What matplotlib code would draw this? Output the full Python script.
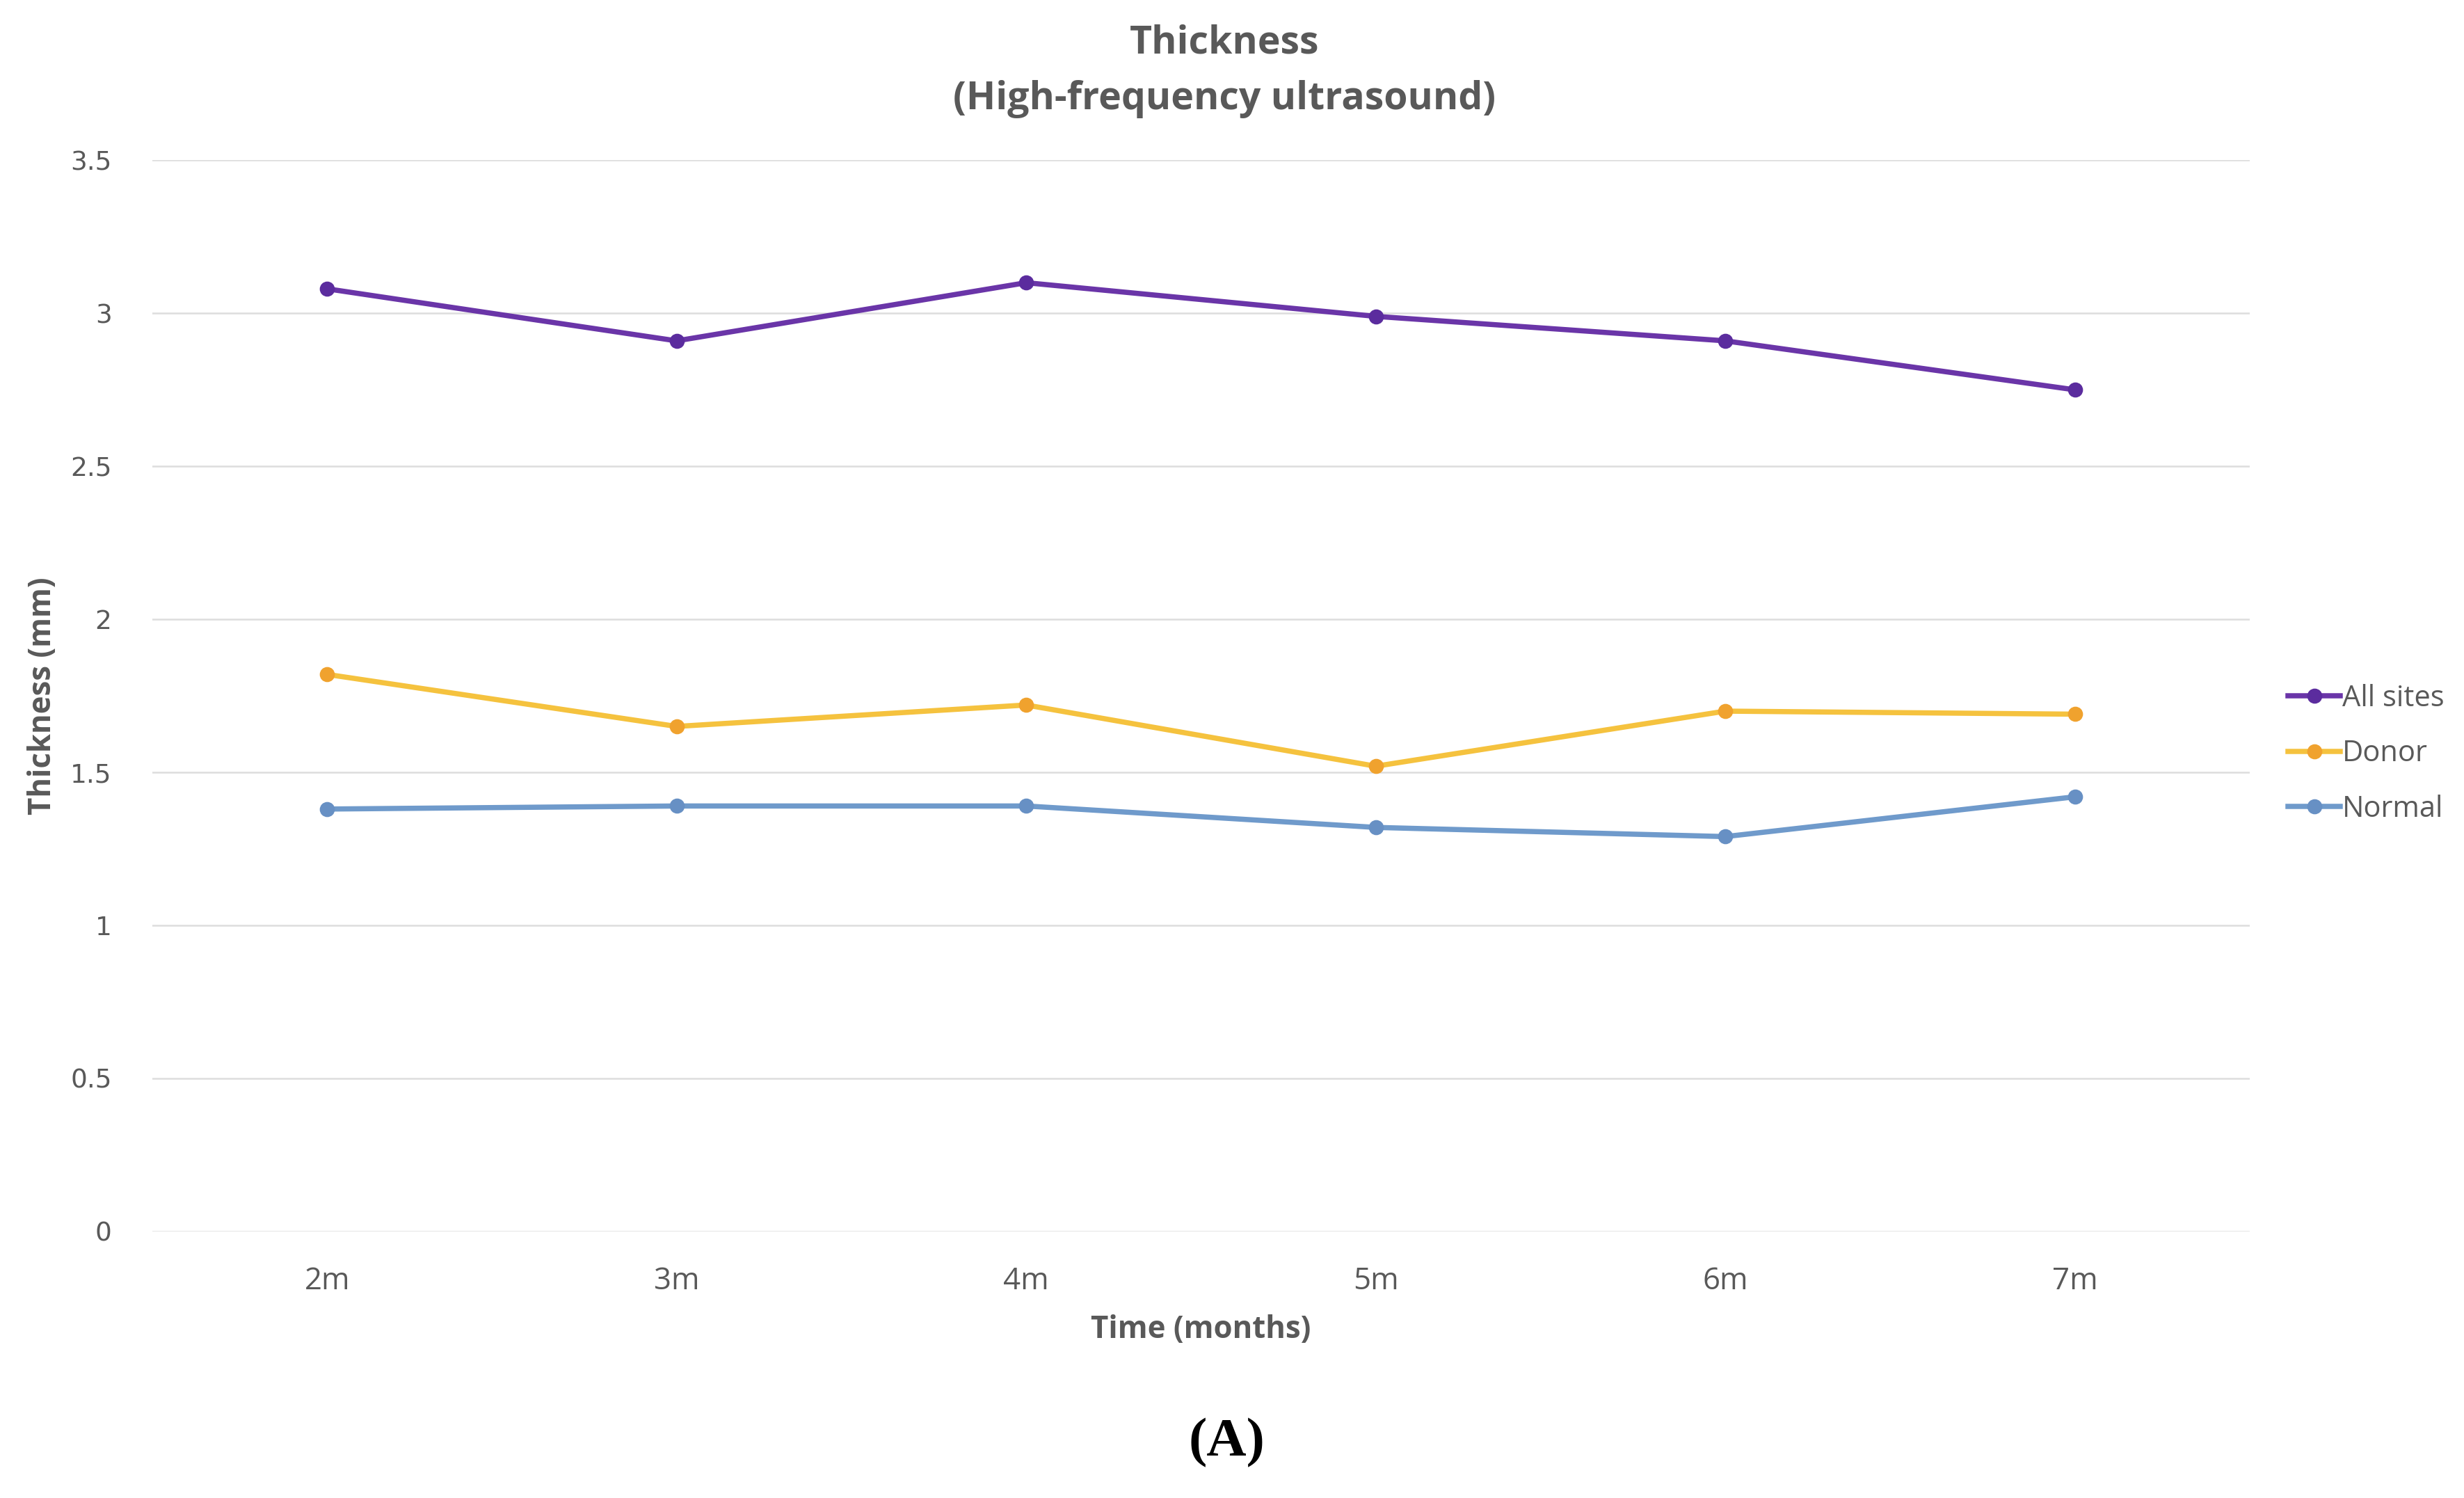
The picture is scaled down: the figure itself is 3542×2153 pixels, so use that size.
import matplotlib
matplotlib.use("Agg")
import matplotlib.pyplot as plt
import numpy as np

months = ["2m", "3m", "4m", "5m", "6m", "7m"]
all_sites = [3.08, 2.91, 3.10, 2.99, 2.91, 2.75]
donor = [1.82, 1.65, 1.72, 1.52, 1.70, 1.69]
normal = [1.38, 1.39, 1.39, 1.32, 1.29, 1.42]
y_ticks = [0, 0.5, 1, 1.5, 2, 2.5, 3, 3.5]
y_tick_labels = ["0", "0.5", "1", "1.5", "2", "2.5", "3", "3.5"]

narrow = ["Open Sans", "DejaVu Sans"]
gray = "#595959"

fig = plt.figure(figsize=(3542 / 300, 2153 / 300), dpi=300)
ax = fig.add_axes([0.0618, 0.178, 0.8512, 0.715])

x = np.arange(len(months))
series = [
    ("All sites", all_sites, "#6A35A8", "#5B2C9E"),
    ("Donor", donor, "#F5C23E", "#F0A22E"),
    ("Normal", normal, "#6F9ACB", "#6790C4"),
]
for name, vals, line_c, mark_c in series:
    ax.plot(x, vals, color=line_c, lw=1.8, marker="o", markersize=4.2,
            markerfacecolor=mark_c, markeredgecolor=mark_c, label=name, zorder=3)

ax.set_xlim(-0.5, len(months) - 0.5)
ax.set_ylim(0, 3.5)
ax.set_yticks(y_ticks)
ax.set_yticklabels(y_tick_labels, fontsize=9, color=gray, family=["DejaVu Sans"])
ax.set_xticks(x)
ax.set_xticklabels(months, fontsize=10.5, color=gray, family=narrow)
ax.tick_params(length=0)
ax.tick_params(axis="y", pad=14)
ax.tick_params(axis="x", pad=12)
ax.grid(axis="y", color="#DDDDDD", lw=0.6)
ax.set_axisbelow(True)
for s in ax.spines.values():
    s.set_visible(False)

ax.set_xlabel("Time (months)", fontsize=10.5, color=gray, fontweight="bold",
              family=narrow, labelpad=6)
ax.set_ylabel("Thickness (mm)", fontsize=10.5, color=gray, fontweight="bold",
              family=narrow, labelpad=4)

fig.text(0.497, 0.984, "Thickness\n(High-frequency ultrasound)", ha="center", va="top",
         fontsize=13.3, fontweight="bold", color=gray, family=narrow, linespacing=1.62)

leg = ax.legend(loc="center left", bbox_to_anchor=(1.006, 0.446), frameon=False,
                prop={"family": narrow, "size": 10}, handlelength=1.8,
                handletextpad=0.05, labelspacing=0.9, labelcolor=gray)

fig.text(0.498, 0.037, "(A)", ha="center", va="center", fontsize=19,
         fontweight="bold", color="black", family=["Liberation Serif", "DejaVu Serif"])

fig.savefig("out.png", dpi=300, facecolor="white")
